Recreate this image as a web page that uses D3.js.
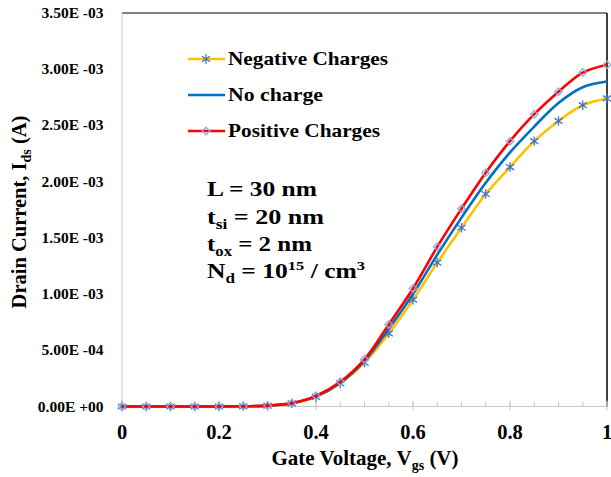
<!DOCTYPE html>
<html><head><meta charset="utf-8">
<script src="https://cdn.jsdelivr.net/npm/d3@7/dist/d3.min.js"></script>
<style>body{margin:0;background:#fff}svg{display:block}text{font-family:"Liberation Serif","Times New Roman",serif;font-weight:bold;fill:#000}</style>
</head><body>
<svg id="c" width="611" height="477"></svg>
<script>
const vgs = [0,0.05,0.1,0.15,0.2,0.25,0.3,0.35,0.4,0.45,0.5,0.55,0.6,0.65,0.7,0.75,0.8,0.85,0.9,0.95,1.0];
const negative = [0,0,0,0,0,0.000002,0.000007,0.000028,0.000085,0.000205,0.00039,0.00065,0.00095,0.00128,0.00159,0.00189,0.00213,0.00236,0.00254,0.00268,0.00274];
const noCharge = [0,0,0,0,0,0.000002,0.0000075,0.000029,0.00009,0.00021,0.000405,0.00069,0.001,0.00135,0.00168,0.00199,0.00226,0.00249,0.0027,0.00284,0.00289];
const positive = [0,0,0,0,0,0.000002,0.000008,0.00003,0.000095,0.00022,0.00042,0.00073,0.00105,0.00142,0.00176,0.00208,0.00236,0.0026,0.0028,0.00297,0.00304];
const seriesNames = ["Negative Charges","No charge","Positive Charges"];
const xTicks = [0,0.2,0.4,0.6,0.8,1];
const xTickLabels = ["0","0.2","0.4","0.6","0.8","1"];
const yTicks = [0,0.0005,0.001,0.0015,0.002,0.0025,0.003,0.0035];
const yTickLabels = ["0.00E +00","5.00E -04","1.00E -03","1.50E -03","2.00E -03","2.50E -03","3.00E -03","3.50E -03"];

const svg = d3.select("#c");
const L=122,R=607,T=13,B=406.5;
const x = d3.scaleLinear().domain([0,1]).range([L,R]);
const y = d3.scaleLinear().domain([0,0.0035]).range([B,T]);

// frame
svg.append("line").attr("x1",L).attr("x2",R).attr("y1",T).attr("y2",T).attr("stroke","#595959").attr("stroke-width",1.3);
svg.append("line").attr("x1",R).attr("x2",R).attr("y1",T).attr("y2",B).attr("stroke","#000").attr("stroke-width",1.5);
svg.append("line").attr("x1",L).attr("x2",L).attr("y1",T).attr("y2",B).attr("stroke","#c8c8c8").attr("stroke-width",1);
svg.append("line").attr("x1",L).attr("x2",R).attr("y1",B).attr("y2",B).attr("stroke","#c8c8c8").attr("stroke-width",1.2);

// x ticks
const minor = d3.range(0,1.0001,0.05);
svg.append("g").selectAll("line").data(minor).join("line")
  .attr("x1",d=>x(d)).attr("x2",d=>x(d)).attr("y1",B-5).attr("y2",B)
  .attr("stroke","#c8c8c8").attr("stroke-width",1);
svg.append("g").selectAll("line").data(xTicks).join("line")
  .attr("x1",d=>x(d)).attr("x2",d=>x(d)).attr("y1",B-6).attr("y2",B+4)
  .attr("stroke","#c8c8c8").attr("stroke-width",1);
svg.append("g").selectAll("text").data(xTicks).join("text")
  .attr("x",d=>x(d)).attr("y",439).attr("text-anchor","middle").attr("font-size",20.5)
  .text((d,i)=>xTickLabels[i]);
// y tick labels
svg.append("g").selectAll("text").data(yTicks).join("text")
  .attr("x",103.5).attr("y",d=>y(d)+5).attr("text-anchor","end").attr("font-size",15.5)
  .text((d,i)=>yTickLabels[i]);

// axis titles
const xt = svg.append("text").attr("x",365).attr("y",465).attr("text-anchor","middle").attr("font-size",21);
xt.append("tspan").text("Gate Voltage, V");
xt.append("tspan").attr("font-size",14).attr("dy",5).text("gs");
xt.append("tspan").attr("dy",-5).text(" (V)");
const yt = svg.append("text").attr("transform","translate(26,212) rotate(-90)").attr("text-anchor","middle").attr("font-size",20.5);
yt.append("tspan").text("Drain Current,  I");
yt.append("tspan").attr("font-size",14).attr("dy",5).text("ds");
yt.append("tspan").attr("dy",-5).text(" (A)");

const colors = ["#FFC000","#0070C0","#FF0000"];
const data = [negative,noCharge,positive];
const line = d3.line().x((d,i)=>x(vgs[i])).y(d=>y(d)).curve(d3.curveCatmullRom.alpha(0.5));

function star(g,cx,cy){
  const s=4.7;
  g.append("path").attr("d",`M${cx},${cy-s}V${cy+s}M${cx-s*0.87},${cy-s*0.6}L${cx+s*0.87},${cy+s*0.6}M${cx-s*0.87},${cy+s*0.6}L${cx+s*0.87},${cy-s*0.6}`)
   .attr("stroke","#4472C4").attr("stroke-width",1.3).attr("fill","none");
}
function diamond(g,cx,cy){
  const s=3.8;
  g.append("path").attr("d",`M${cx},${cy-s}L${cx+s},${cy}L${cx},${cy+s}L${cx-s},${cy}Z`)
   .attr("stroke","#8FAADC").attr("stroke-width",1.3).attr("fill","none");
}

data.forEach((arr,k)=>{
  const g = svg.append("g");
  g.append("path").datum(arr).attr("d",line).attr("fill","none").attr("stroke",colors[k]).attr("stroke-width",2.6);
  if(k===0) arr.forEach((v,i)=>star(g,x(vgs[i]),y(v)));
  if(k===2) arr.forEach((v,i)=>diamond(g,x(vgs[i]),y(v)));
});

// legend
const ly=[59,95,131];
const legW=[160,95,152];
seriesNames.forEach((n,k)=>{
  const g=svg.append("g");
  g.append("line").attr("x1",188).attr("x2",225).attr("y1",ly[k]).attr("y2",ly[k]).attr("stroke",colors[k]).attr("stroke-width",2.6);
  if(k===0) star(g,206,ly[k]);
  if(k===2) diamond(g,206,ly[k]);
  g.append("text").attr("x",228).attr("y",ly[k]+5.5).attr("font-size",19.5)
   .attr("textLength",legW[k]).attr("lengthAdjust","spacingAndGlyphs").text(n);
});

// annotations
const ax=207, fs=21;
function ann(yy,w,parts){
  const t=svg.append("text").attr("x",ax).attr("y",yy).attr("font-size",fs)
    .attr("textLength",w).attr("lengthAdjust","spacingAndGlyphs");
  parts.forEach(p=>{const s=t.append("tspan").text(p[0]); if(p[1]) s.attr("font-size",p[1]); if(p[2]) s.attr("dy",p[2]);});
}
ann(196,110,[["L = 30 nm"]]);
ann(224,117,[["t"],["si",14,5],["  = 20 nm",null,-5]]);
ann(251,105,[["t"],["ox",14,5],[" = 2 nm",null,-5]]);
ann(278,158,[["N"],["d",14,5],[" = 10",null,-5],["15",13.5,-8],[" / cm",null,8],["3",13.5,-8]]);
</script>
</body></html>
